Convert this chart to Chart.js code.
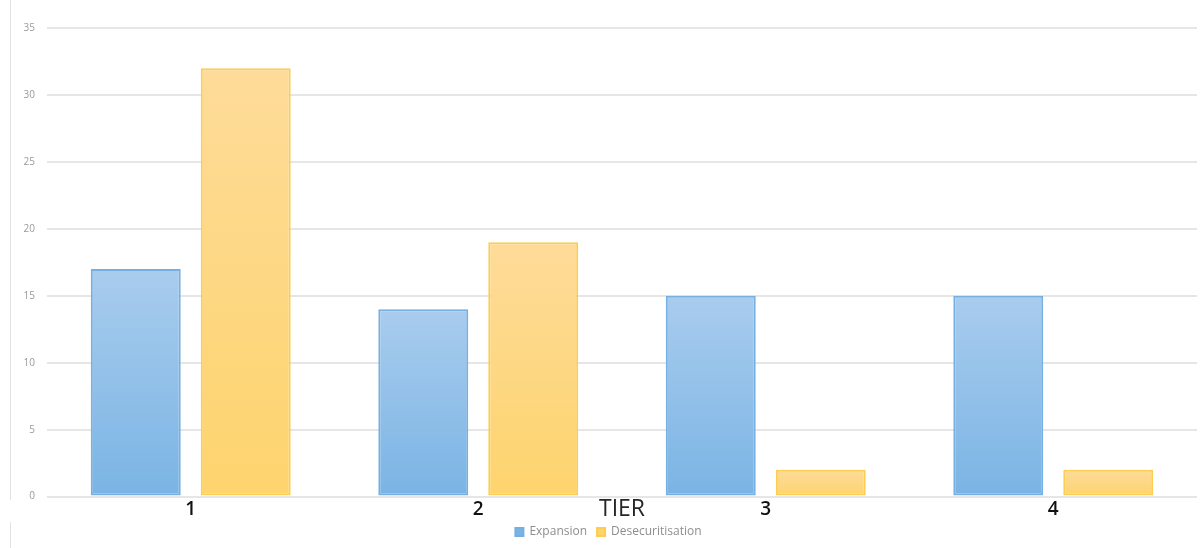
<!DOCTYPE html>
<html lang="en">
<head>
    <meta charset="UTF-8">
    <title>Tier chart</title>
    <script src="https://cdn.jsdelivr.net/npm/chart.js"></script>
    <style>
        html, body {
            margin: 0;
            padding: 0;
            background: #fff;
        }
        .wrap {
            position: relative;
            width: 1202px;
            height: 548px;
        }
        /* faint frame line on the left edge */
        .edge {
            position: absolute;
            left: 10px;
            width: 1px;
            background: #e2e2e2;
        }
    </style>
</head>
<body>
    <div class="wrap">
        <canvas id="tierChart" width="1202" height="548"></canvas>
        <div class="edge" style="top:0; height:500px;"></div>
        <div class="edge" style="top:522px; height:26px;"></div>
    </div>

    <script>
        // data
        var tiers = ['1', '2', '3', '4'];
        var expansion = [17, 14, 15, 15];
        var desecuritisation = [32, 19, 2, 2];
        var yTicks = [0, 5, 10, 15, 20, 25, 30, 35];

        // vertical gradient per bar, light on top
        function barGradient(topColor, bottomColor) {
            return function (context) {
                var chart = context.chart;
                if (!chart.chartArea || !chart.scales.y || context.type !== 'data') {
                    return bottomColor;
                }
                var y = chart.scales.y;
                var top = y.getPixelForValue(context.parsed.y);
                var base = y.getPixelForValue(0);
                if (!isFinite(top) || base - top < 1) {
                    return topColor;
                }
                var g = chart.ctx.createLinearGradient(0, top, 0, base);
                g.addColorStop(0, topColor);
                g.addColorStop(1, bottomColor);
                return g;
            };
        }

        var ctx = document.getElementById('tierChart').getContext('2d');
        var tierChart = new Chart(ctx, {
            type: 'bar',
            data: {
                labels: tiers,
                datasets: [{
                    label: 'Expansion',
                    data: expansion,
                    backgroundColor: barGradient('#a9ccee', '#7ab4e4'),
                    borderColor: '#76b0e2',
                    borderWidth: 2,
                    borderSkipped: false,
                    categoryPercentage: 0.765,
                    barPercentage: 0.818
                }, {
                    label: 'Desecuritisation',
                    data: desecuritisation,
                    backgroundColor: barGradient('#fedb99', '#fdd46d'),
                    borderColor: '#fccd50',
                    borderWidth: 2,
                    borderSkipped: false,
                    categoryPercentage: 0.765,
                    barPercentage: 0.818
                }]
            },
            options: {
                responsive: false,
                animation: false,
                layout: {
                    padding: { left: 20, right: 5, top: 28, bottom: 0 }
                },
                plugins: {
                    tooltip: { enabled: false },
                    legend: {
                        position: 'bottom',
                        labels: {
                            boxWidth: 8,
                            boxHeight: 8,
                            padding: 10,
                            color: '#8e8e8e',
                            font: { family: 'Open Sans', size: 12 }
                        }
                    }
                },
                scales: {
                    x: {
                        grid: { display: false, drawTicks: false },
                        border: { display: false },
                        ticks: {
                            color: '#111',
                            padding: 2,
                            font: { family: 'Open Sans', size: 19, weight: '600' }
                        },
                        title: {
                            display: true,
                            text: 'TIER',
                            color: '#262626',
                            font: { family: 'Open Sans', size: 23 },
                            padding: { top: -28, bottom: -7 }
                        }
                    },
                    y: {
                        min: 0,
                        max: 35,
                        afterFit: function (scale) { scale.width = 27; },
                        afterBuildTicks: function (scale) {
                            scale.ticks = yTicks.map(function (v) { return { value: v }; });
                        },
                        grid: {
                            color: '#e6e6e6',
                            lineWidth: 2,
                            drawTicks: false
                        },
                        border: { display: false },
                        ticks: {
                            color: '#9a9a9a',
                            padding: 12,
                            font: { family: 'Open Sans', size: 10 }
                        }
                    }
                }
            }
        });
    </script>
</body>
</html>
